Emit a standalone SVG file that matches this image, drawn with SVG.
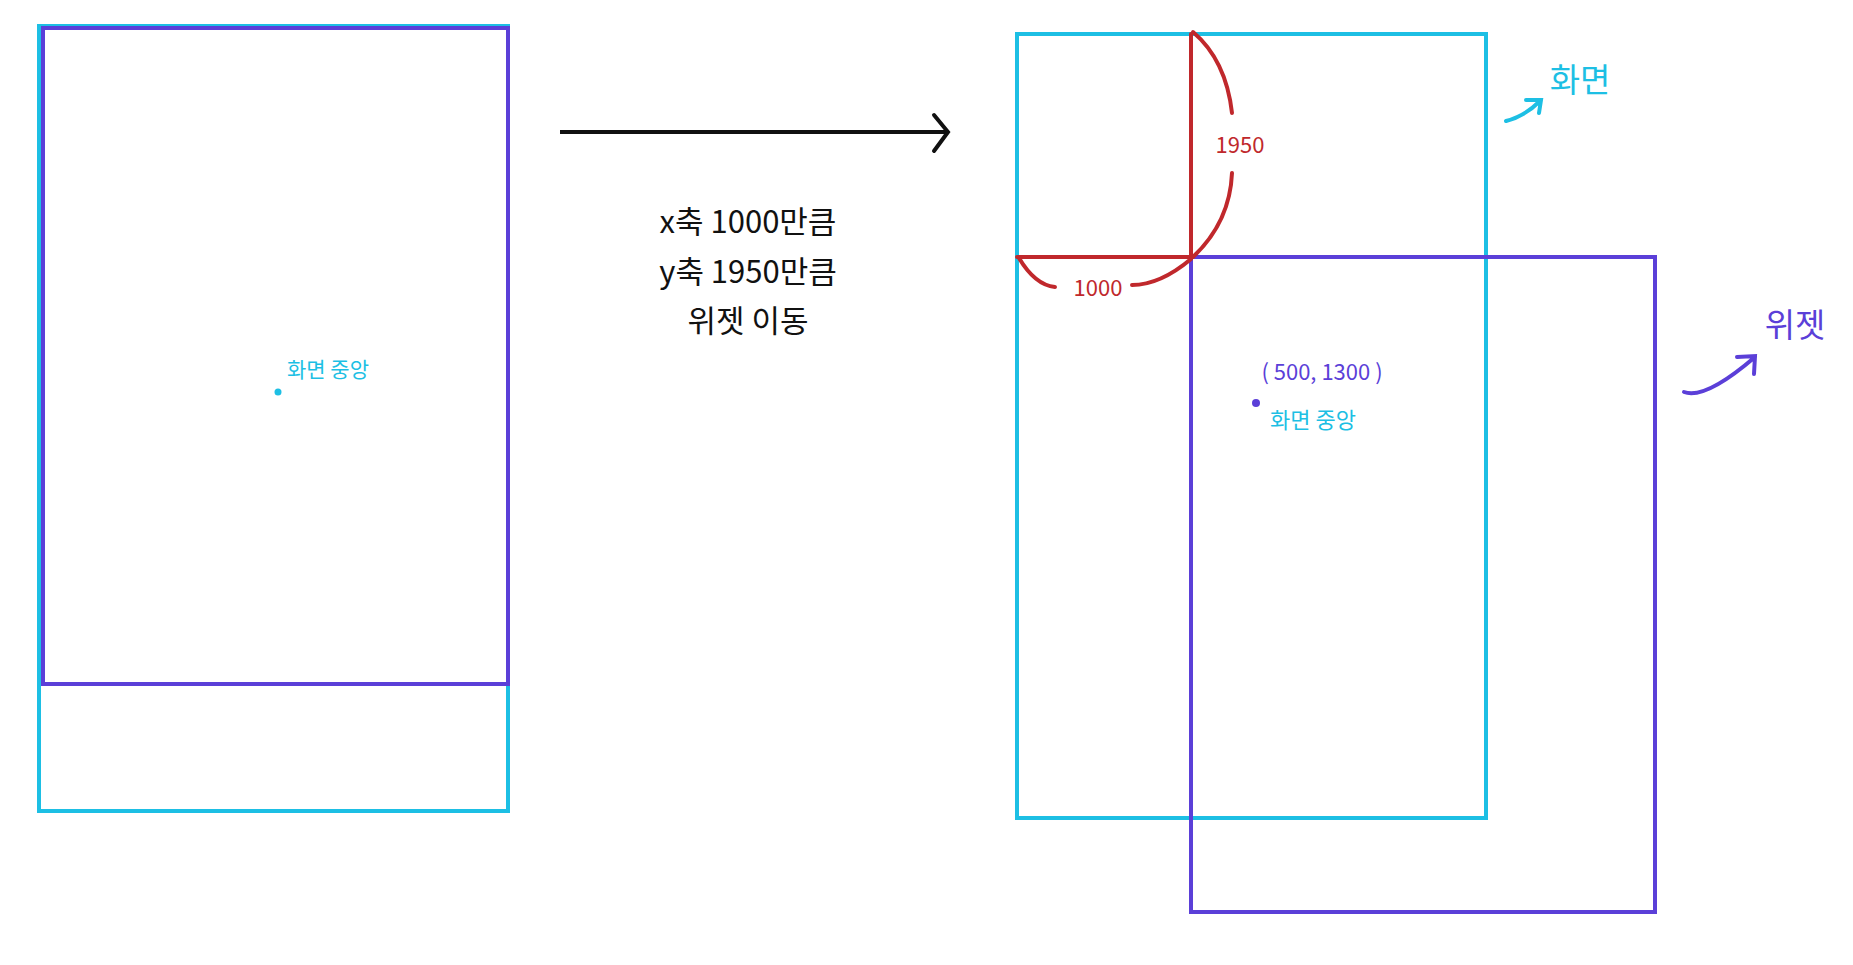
<svg xmlns="http://www.w3.org/2000/svg" width="1853" height="965" viewBox="0 0 1853 965">
<style>
.c{fill:none;stroke:#1DBFE4;stroke-width:4}
.p{fill:none;stroke:#5B3FD8;stroke-width:4}
.r{fill:none;stroke:#C0282C;stroke-width:4;stroke-linecap:round}
text{font-family:"Noto Sans CJK KR","Noto Sans",sans-serif}
.t{font-size:31px;fill:#111;text-anchor:middle}
</style>
<rect width="1853" height="965" fill="#fff"/>
<g id="left-screen"><rect class="c" x="39" y="26" width="469" height="785"/></g>
<g id="left-widget"><rect class="p" x="43" y="28" width="465" height="656"/></g>
<g id="left-center"><circle cx="278" cy="392" r="3.5" fill="#1DBFE4"/><text x="287" y="377" font-size="21" fill="#1DBFE4">화면 중앙</text></g>
<g id="right-screen"><rect class="c" x="1017" y="34" width="469" height="784"/></g>
<g id="right-widget"><rect class="p" x="1191" y="257" width="464" height="655"/></g>
<g id="caption"><text class="t" x="748" y="233">x축 1000만큼</text><text class="t" x="748" y="283">y축 1950만큼</text><text class="t" x="748" y="332">위젯 이동</text></g>
<g id="connectors">
<path d="M560 132H947" stroke="#111" stroke-width="4" fill="none"/>
<path d="M934 115L948 132L934 151" stroke="#111" stroke-width="4" fill="none" stroke-linecap="round"/>
<path class="r" d="M1191 34V257H1017"/>
<path class="r" d="M1193 32Q1226 60 1232 113"/>
<path class="r" d="M1232 173Q1230 222 1193 257"/>
<path class="r" d="M1019 258Q1035 285 1055 287"/>
<path class="r" d="M1132 285Q1160 285 1191 259"/>
<path d="M1506 121Q1525 116 1540 101M1526 100L1541 100L1539 113" stroke="#1DBFE4" stroke-width="4" fill="none" stroke-linecap="round"/>
<path d="M1684 392Q1705 400 1755 357M1737 357L1755 356L1754 374" stroke="#5B3FD8" stroke-width="4" fill="none" stroke-linecap="round"/>
</g>
<g id="labels">
<text x="1240" y="153" font-size="22" fill="#C0282C" text-anchor="middle">1950</text>
<text x="1098" y="296" font-size="22" fill="#C0282C" text-anchor="middle">1000</text>
<text x="1322" y="380" font-size="22" fill="#5B3FD8" text-anchor="middle">( 500, 1300 )</text>
<circle cx="1256" cy="403" r="4" fill="#5B3FD8"/>
<text x="1313" y="428" font-size="22" fill="#1DBFE4" text-anchor="middle">화면 중앙</text>
<text x="1580" y="92" font-size="33" fill="#1DBFE4" text-anchor="middle">화면</text>
<text x="1795" y="337" font-size="33" fill="#5B3FD8" text-anchor="middle">위젯</text>
</g>
</svg>
